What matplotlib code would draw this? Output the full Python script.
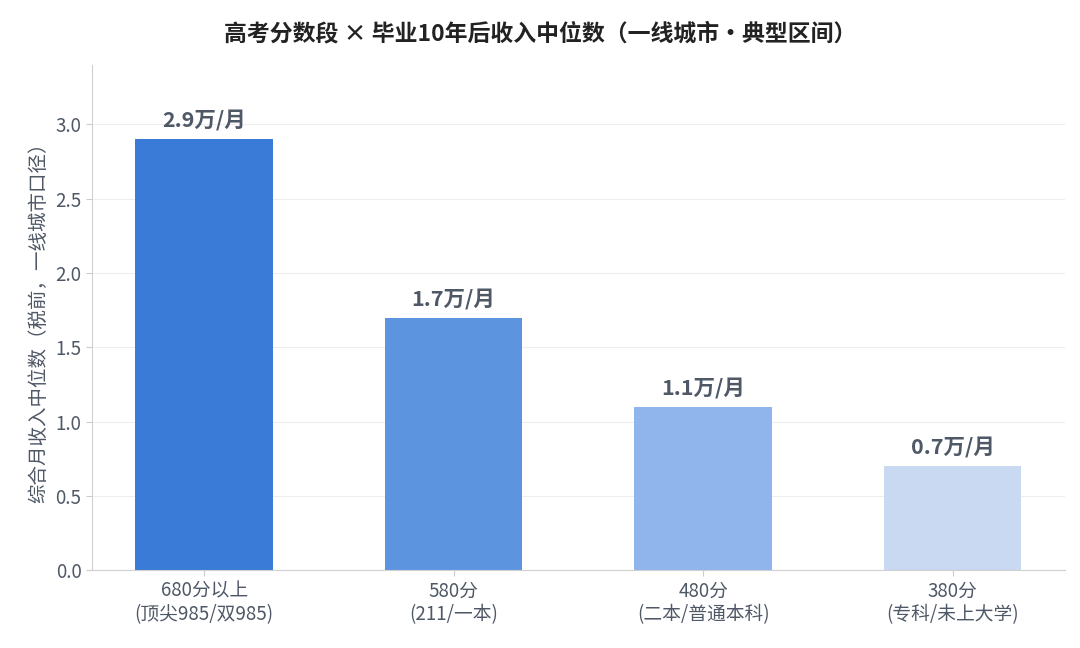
import matplotlib
matplotlib.use("Agg")
import matplotlib.pyplot as plt

plt.rcParams['font.family'] = ['Noto Sans CJK SC', 'DejaVu Sans']

categories = ["680分以上\n(顶尖985/双985)", "580分\n(211/一本)", "480分\n(二本/普通本科)", "380分\n(专科/未上大学)"]
values = [2.9, 1.7, 1.1, 0.7]
labels = ["2.9万/月", "1.7万/月", "1.1万/月", "0.7万/月"]
colors = ["#3a7bd8", "#5d94e0", "#90b5ec", "#c9d9f2"]

fig, ax = plt.subplots(figsize=(10.8, 6.48), dpi=100)
fig.subplots_adjust(left=0.085, right=0.986, top=0.9, bottom=0.12)
x = range(len(categories))
ax.bar(x, values, width=0.55, color=colors, zorder=2)
for i, (v, t) in enumerate(zip(values, labels)):
    ax.text(i, v + 0.05, t, ha='center', va='bottom', fontsize=15.5, fontweight='bold', color='#4f5866')
ax.set_xticks(list(x))
ax.set_xticklabels(categories, fontsize=13.5, color='#4f5866', linespacing=1.15)
ax.set_ylim(0, 3.4)
ax.set_xlim(-0.45, 3.45)
ax.set_yticks([0, 0.5, 1.0, 1.5, 2.0, 2.5, 3.0])
ax.set_yticklabels([f"{v:.1f}" for v in [0, 0.5, 1.0, 1.5, 2.0, 2.5, 3.0]])
ax.tick_params(axis='y', labelsize=13.5, colors='#4f5866', length=4, color='#cccccc')
ax.tick_params(axis='x', length=4, color='#cccccc')
ax.set_ylabel("综合月收入中位数（税前，一线城市口径）", fontsize=14, color='#4f5866')
ax.grid(axis='y', color='#eeeeee', zorder=0)
for s in ['top', 'right']:
    ax.spines[s].set_visible(False)
for s in ['left', 'bottom']:
    ax.spines[s].set_color('#d0d0d0')
fig.suptitle("高考分数段 × 毕业10年后收入中位数（一线城市•典型区间）", fontsize=16.5, fontweight='bold', color='#222222', y=0.965)
fig.savefig("out.png")
